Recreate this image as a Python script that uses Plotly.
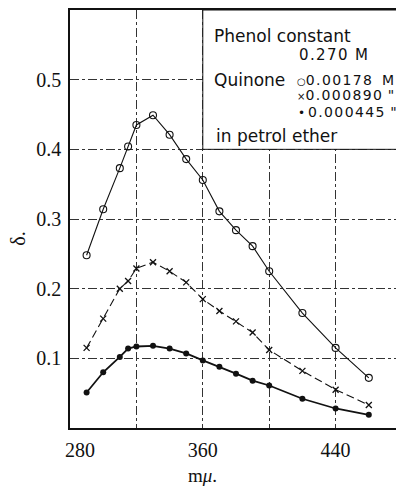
import plotly.graph_objects as go

wavelength = [290, 300, 310, 315, 320, 330, 340, 350, 360, 370, 380, 390, 400, 420, 440, 460]
quinone_00178 = [0.248, 0.314, 0.373, 0.404, 0.435, 0.449, 0.421, 0.386, 0.356, 0.311, 0.284, 0.261, 0.225, 0.165, 0.115, 0.072]
quinone_000890 = [0.115, 0.157, 0.200, 0.211, 0.229, 0.238, 0.225, 0.209, 0.185, 0.168, 0.153, 0.137, 0.112, 0.082, 0.055, 0.033]
quinone_000445 = [0.051, 0.080, 0.102, 0.114, 0.117, 0.118, 0.114, 0.107, 0.097, 0.088, 0.078, 0.068, 0.061, 0.042, 0.028, 0.019]

x_tickvals = [280, 320, 360, 400, 440]
x_ticktext = ["\u00a0" * 4 + "280", "", "360", "", "440"]
y_tickvals = [0.1, 0.2, 0.3, 0.4, 0.5]
y_ticktext = ["0.1", "0.2", "0.3", "0.4", "0.5"]

serif = "Liberation Serif"
sans = "DejaVu Sans"
ink = "#111111"

fig = go.Figure()
fig.add_trace(go.Scatter(
    x=wavelength, y=quinone_00178, mode="lines+markers",
    line=dict(color=ink, width=1.1),
    marker=dict(symbol="circle-open", size=7, color=ink, line=dict(width=1.1)),
    showlegend=False))
fig.add_trace(go.Scatter(
    x=wavelength, y=quinone_000890, mode="lines+markers",
    line=dict(color=ink, width=1.1, dash="8px,4px"),
    marker=dict(symbol="x-thin", size=6, color=ink, line=dict(width=1.3, color=ink)),
    showlegend=False))
fig.add_trace(go.Scatter(
    x=wavelength, y=quinone_000445, mode="lines+markers",
    line=dict(color=ink, width=1.8),
    marker=dict(symbol="circle", size=6, color=ink),
    showlegend=False))

axis_common = dict(
    showline=True, linecolor=ink, linewidth=1.5, mirror=True,
    showgrid=True, gridcolor="#333333", gridwidth=1, griddash="dashdot",
    zeroline=False, ticks="", tickfont=dict(family=serif, size=20, color=ink),
)
fig.update_xaxes(range=[280, 480], tickvals=x_tickvals, ticktext=x_ticktext,
                 ticklabelstandoff=3, **axis_common)
fig.update_yaxes(range=[0, 0.6], tickvals=y_tickvals, ticktext=y_ticktext,
                 ticklabelstandoff=3, **axis_common)

# white legend box covering the grid in the upper right
fig.add_shape(type="rect", x0=360, x1=480, y0=0.4, y1=0.6, xref="x", yref="y",
              fillcolor="white", line=dict(color=ink, width=1), layer="between")

wf = dict(family=sans, size=17, color=ink)
nf = dict(family=sans, size=14, color=ink)


def note(x, y, text, anchor="left", font=wf):
    fig.add_annotation(x=x, y=y, xref="x", yref="y", text=text, showarrow=False,
                       xanchor=anchor, yanchor="middle", font=font)


def spaced(s):
    return "<span style='letter-spacing:1.4px'>" + s + "</span>"


note(365.5, 0.5634, "Phenol constant")
note(461.5, 0.5347, spaced("0.270 M"), anchor="right", font=dict(family=sans, size=15, color=ink))
note(365.5, 0.4994, "Quinone")
note(415.6, 0.4994, "<span style='font-size:10px'>○</span>" + spaced("0.00178"), font=nf)
note(476.5, 0.4994, "M", anchor="right", font=nf)
note(415.6, 0.4774, "<span style='font-size:10px'>×</span>" + spaced("0.000890") + " \"", font=nf)
note(416.2, 0.4532, "<span style='font-size:12px'>•</span>\u2009" + spaced("0.000445") + " \"", font=nf)
note(367, 0.4196, "in petrol ether")

# axis titles
fig.add_annotation(x=360, y=-0.114, xref="x", yref="paper", text="m<i>μ</i>.",
                   showarrow=False, xanchor="center", yanchor="middle",
                   font=dict(family=serif, size=19, color=ink))
fig.add_annotation(x=-0.155, y=0.271, xref="paper", yref="y", text="δ.",
                   showarrow=False, textangle=-90, xanchor="center", yanchor="middle",
                   font=dict(family=serif, size=20, color=ink))

# the page adds an 8px body margin, so the figure is sized to fit the window
fig.update_layout(
    width=396, height=479,
    margin=dict(l=62, r=0, t=2, b=59),
    plot_bgcolor="white", paper_bgcolor="white",
)

fig.write_html("out.html")
